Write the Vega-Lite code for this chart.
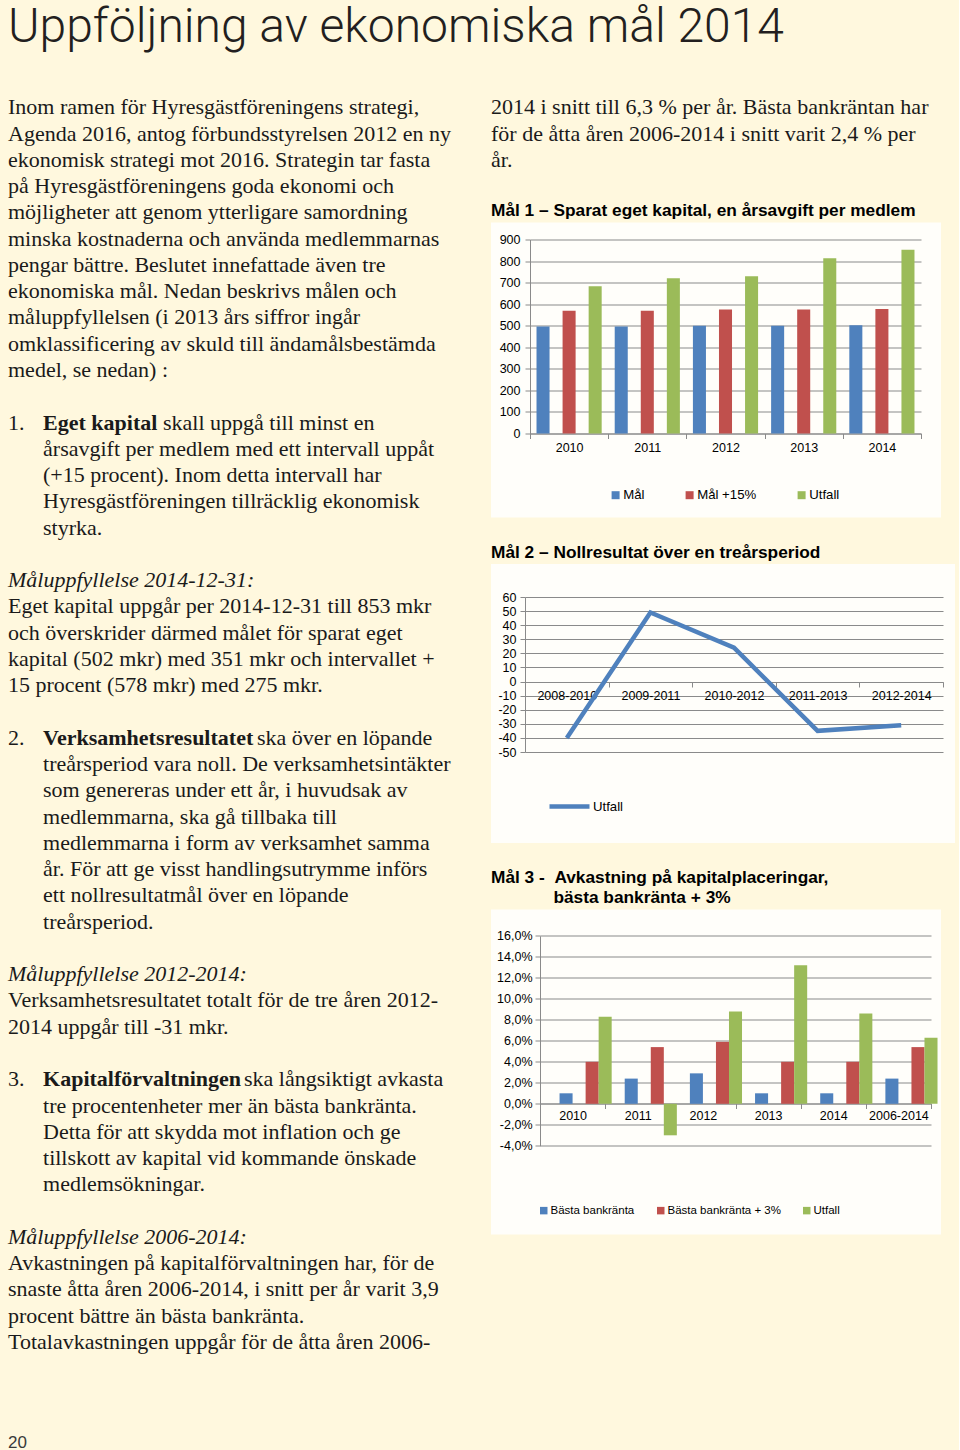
{
  "$schema": "https://vega.github.io/schema/vega-lite/v6.json",
  "background": "#FFF8DE",
  "padding": {"left": 8, "top": 4, "right": 4, "bottom": 2},
  "title": {"text": "Uppföljning av ekonomiska mål 2014", "anchor": "start", "font": "Roboto", "fontWeight": 300, "fontSize": 48, "color": "#231f20", "offset": 29, "frame": "bounds"},
  "spacing": 10,
  "resolve": {"scale": {"color": "independent"}, "legend": {"color": "independent"}},
  "config": {"view": {"stroke": null}},
  "datasets": {
    "left": [
      {"line": 1, "indent": 0, "kind": "p", "text": "Inom ramen för Hyresgästföreningens strategi,"},
      {"line": 2, "indent": 0, "kind": "p", "text": "Agenda 2016, antog förbundsstyrelsen 2012 en ny"},
      {"line": 3, "indent": 0, "kind": "p", "text": "ekonomisk strategi mot 2016. Strategin tar fasta"},
      {"line": 4, "indent": 0, "kind": "p", "text": "på Hyresgästföreningens goda ekonomi och"},
      {"line": 5, "indent": 0, "kind": "p", "text": "möjligheter att genom ytterligare samordning"},
      {"line": 6, "indent": 0, "kind": "p", "text": "minska kostnaderna och använda medlemmarnas"},
      {"line": 7, "indent": 0, "kind": "p", "text": "pengar bättre. Beslutet innefattade även tre"},
      {"line": 8, "indent": 0, "kind": "p", "text": "ekonomiska mål. Nedan beskrivs målen och"},
      {"line": 9, "indent": 0, "kind": "p", "text": "måluppfyllelsen (i 2013 års siffror ingår"},
      {"line": 10, "indent": 0, "kind": "p", "text": "omklassificering av skuld till ändamålsbestämda"},
      {"line": 11, "indent": 0, "kind": "p", "text": "medel, se nedan) :"},
      {"line": 13, "indent": 0, "kind": "p", "text": "1."},
      {"line": 13, "indent": 1, "kind": "lead", "text": "Eget kapital"},
      {"line": 13, "indent": 1, "kind": "rest1", "text": "skall uppgå till minst en"},
      {"line": 14, "indent": 1, "kind": "p", "text": "årsavgift per medlem med ett intervall uppåt"},
      {"line": 15, "indent": 1, "kind": "p", "text": "(+15 procent). Inom detta intervall har"},
      {"line": 16, "indent": 1, "kind": "p", "text": "Hyresgästföreningen tillräcklig ekonomisk"},
      {"line": 17, "indent": 1, "kind": "p", "text": "styrka."},
      {"line": 19, "indent": 0, "kind": "em", "text": "Måluppfyllelse 2014-12-31:"},
      {"line": 20, "indent": 0, "kind": "p", "text": "Eget kapital uppgår per 2014-12-31 till 853 mkr"},
      {"line": 21, "indent": 0, "kind": "p", "text": "och överskrider därmed målet för sparat eget"},
      {"line": 22, "indent": 0, "kind": "p", "text": "kapital (502 mkr) med 351 mkr och intervallet +"},
      {"line": 23, "indent": 0, "kind": "p", "text": "15 procent (578 mkr) med 275 mkr."},
      {"line": 25, "indent": 0, "kind": "p", "text": "2."},
      {"line": 25, "indent": 1, "kind": "lead", "text": "Verksamhetsresultatet"},
      {"line": 25, "indent": 1, "kind": "rest2", "text": "ska över en löpande"},
      {"line": 26, "indent": 1, "kind": "p", "text": "treårsperiod vara noll. De verksamhetsintäkter"},
      {"line": 27, "indent": 1, "kind": "p", "text": "som genereras under ett år, i huvudsak av"},
      {"line": 28, "indent": 1, "kind": "p", "text": "medlemmarna, ska gå tillbaka till"},
      {"line": 29, "indent": 1, "kind": "p", "text": "medlemmarna i form av verksamhet samma"},
      {"line": 30, "indent": 1, "kind": "p", "text": "år. För att ge visst handlingsutrymme införs"},
      {"line": 31, "indent": 1, "kind": "p", "text": "ett nollresultatmål över en löpande"},
      {"line": 32, "indent": 1, "kind": "p", "text": "treårsperiod."},
      {"line": 34, "indent": 0, "kind": "em", "text": "Måluppfyllelse 2012-2014:"},
      {"line": 35, "indent": 0, "kind": "p", "text": "Verksamhetsresultatet totalt för de tre åren 2012-"},
      {"line": 36, "indent": 0, "kind": "p", "text": "2014 uppgår till -31 mkr."},
      {"line": 38, "indent": 0, "kind": "p", "text": "3."},
      {"line": 38, "indent": 1, "kind": "lead", "text": "Kapitalförvaltningen"},
      {"line": 38, "indent": 1, "kind": "rest3", "text": "ska långsiktigt avkasta"},
      {"line": 39, "indent": 1, "kind": "p", "text": "tre procentenheter mer än bästa bankränta."},
      {"line": 40, "indent": 1, "kind": "p", "text": "Detta för att skydda mot inflation och ge"},
      {"line": 41, "indent": 1, "kind": "p", "text": "tillskott av kapital vid kommande önskade"},
      {"line": 42, "indent": 1, "kind": "p", "text": "medlemsökningar."},
      {"line": 44, "indent": 0, "kind": "em", "text": "Måluppfyllelse 2006-2014:"},
      {"line": 45, "indent": 0, "kind": "p", "text": "Avkastningen på kapitalförvaltningen har, för de"},
      {"line": 46, "indent": 0, "kind": "p", "text": "snaste åtta åren 2006-2014, i snitt per år varit 3,9"},
      {"line": 47, "indent": 0, "kind": "p", "text": "procent bättre än bästa bankränta."},
      {"line": 48, "indent": 0, "kind": "p", "text": "Totalavkastningen uppgår för de åtta åren 2006-"},
      {"line": 52, "indent": 0, "kind": "page", "text": "20"}
    ],
    "right": [
      {"line": 1, "indent": 0, "kind": "p", "text": "2014 i snitt till 6,3 % per år. Bästa bankräntan har"},
      {"line": 2, "indent": 0, "kind": "p", "text": "för de åtta åren 2006-2014 i snitt varit 2,4 % per"},
      {"line": 3, "indent": 0, "kind": "p", "text": "år."}
    ],
    "mal1": [
      {"year": "2010", "serie": "Mål", "value": 496},
      {"year": "2010", "serie": "Mål +15%", "value": 570},
      {"year": "2010", "serie": "Utfall", "value": 683},
      {"year": "2011", "serie": "Mål", "value": 496},
      {"year": "2011", "serie": "Mål +15%", "value": 570},
      {"year": "2011", "serie": "Utfall", "value": 720},
      {"year": "2012", "serie": "Mål", "value": 500},
      {"year": "2012", "serie": "Mål +15%", "value": 575},
      {"year": "2012", "serie": "Utfall", "value": 729},
      {"year": "2013", "serie": "Mål", "value": 500},
      {"year": "2013", "serie": "Mål +15%", "value": 575},
      {"year": "2013", "serie": "Utfall", "value": 813},
      {"year": "2014", "serie": "Mål", "value": 502},
      {"year": "2014", "serie": "Mål +15%", "value": 578},
      {"year": "2014", "serie": "Utfall", "value": 853}
    ],
    "mal2": [
      {"period": "2008-2010", "serie": "Utfall", "value": -40},
      {"period": "2009-2011", "serie": "Utfall", "value": 49},
      {"period": "2010-2012", "serie": "Utfall", "value": 24},
      {"period": "2011-2013", "serie": "Utfall", "value": -35},
      {"period": "2012-2014", "serie": "Utfall", "value": -31}
    ],
    "mal3": [
      {"year": "2010", "serie": "Bästa bankränta", "value": 1.0},
      {"year": "2010", "serie": "Bästa bankränta + 3%", "value": 4.0},
      {"year": "2010", "serie": "Utfall", "value": 8.3},
      {"year": "2011", "serie": "Bästa bankränta", "value": 2.4},
      {"year": "2011", "serie": "Bästa bankränta + 3%", "value": 5.4},
      {"year": "2011", "serie": "Utfall", "value": -3.0},
      {"year": "2012", "serie": "Bästa bankränta", "value": 2.9},
      {"year": "2012", "serie": "Bästa bankränta + 3%", "value": 5.9},
      {"year": "2012", "serie": "Utfall", "value": 8.8},
      {"year": "2013", "serie": "Bästa bankränta", "value": 1.0},
      {"year": "2013", "serie": "Bästa bankränta + 3%", "value": 4.0},
      {"year": "2013", "serie": "Utfall", "value": 13.2},
      {"year": "2014", "serie": "Bästa bankränta", "value": 1.0},
      {"year": "2014", "serie": "Bästa bankränta + 3%", "value": 4.0},
      {"year": "2014", "serie": "Utfall", "value": 8.6},
      {"year": "2006-2014", "serie": "Bästa bankränta", "value": 2.4},
      {"year": "2006-2014", "serie": "Bästa bankränta + 3%", "value": 5.4},
      {"year": "2006-2014", "serie": "Utfall", "value": 6.3}
    ]
  },
  "hconcat": [
    {
      "width": 473,
      "height": 1366,
      "data": {"name": "left"},
      "encoding": {
        "x": {"field": "indent", "type": "quantitative", "scale": {"domain": [0, 13.5], "nice": false, "zero": false}, "axis": null},
        "y": {"field": "line", "type": "quantitative", "scale": {"domain": [0, 52], "nice": false, "zero": false, "reverse": true}, "axis": null},
        "text": {"field": "text", "type": "nominal"}
      },
      "layer": [
        {"transform": [{"filter": "datum.kind === 'p'"}], "mark": {"type": "text", "align": "left", "baseline": "middle", "font": "Liberation Serif", "fontSize": 22, "color": "#1a1a1a"}},
        {"transform": [{"filter": "datum.kind === 'em'"}], "mark": {"type": "text", "align": "left", "baseline": "middle", "font": "Liberation Serif", "fontSize": 22, "fontStyle": "italic", "color": "#1a1a1a"}},
        {"transform": [{"filter": "datum.kind === 'lead'"}], "mark": {"type": "text", "align": "left", "baseline": "middle", "font": "Liberation Serif", "fontSize": 22, "fontWeight": "bold", "color": "#1a1a1a"}},
        {"transform": [{"filter": "datum.kind === 'rest1'"}], "mark": {"type": "text", "align": "left", "baseline": "middle", "font": "Liberation Serif", "fontSize": 22, "color": "#1a1a1a", "dx": 120}},
        {"transform": [{"filter": "datum.kind === 'rest2'"}], "mark": {"type": "text", "align": "left", "baseline": "middle", "font": "Liberation Serif", "fontSize": 22, "color": "#1a1a1a", "dx": 214}},
        {"transform": [{"filter": "datum.kind === 'rest3'"}], "mark": {"type": "text", "align": "left", "baseline": "middle", "font": "Liberation Serif", "fontSize": 22, "color": "#1a1a1a", "dx": 201}},
        {"transform": [{"filter": "datum.kind === 'page'"}], "mark": {"type": "text", "align": "left", "baseline": "alphabetic", "dy": 1, "font": "Liberation Sans", "fontSize": 17, "color": "#3a3a3a"}}
      ]
    },
    {
      "spacing": 25.5,
      "resolve": {"scale": {"color": "independent"}, "legend": {"color": "independent"}},
      "vconcat": [
        {
          "width": 450,
          "height": 95,
          "data": {"name": "right"},
          "mark": {"type": "text", "align": "left", "baseline": "middle", "font": "Liberation Serif", "fontSize": 22, "color": "#1a1a1a"},
          "encoding": {
            "x": {"field": "indent", "type": "quantitative", "scale": {"domain": [0, 1], "nice": false, "zero": false}, "axis": null},
            "y": {"field": "line", "type": "quantitative", "scale": {"domain": [0, 3.615], "nice": false, "zero": false, "reverse": true}, "axis": null},
            "text": {"field": "text", "type": "nominal"}
          }
        },
        {
          "width": 450,
          "height": 295,
          "view": {"fill": "#FFFEFA", "stroke": null},
          "title": {"text": "Mål 1 – Sparat eget kapital, en årsavgift per medlem", "anchor": "start", "frame": "group", "font": "Liberation Sans", "fontSize": 17.3, "fontWeight": "bold", "color": "#000000", "offset": 3},
          "data": {"name": "mal1"},
          "mark": {"type": "bar"},
          "encoding": {
            "x": {"field": "year", "type": "nominal", "scale": {"range": [39, 430], "paddingInner": 0, "paddingOuter": 0},
              "axis": {"orient": "bottom", "offset": -84, "tickBand": "extent", "labelAngle": 0, "title": null, "grid": false, "domainColor": "#8a8a8a", "tickColor": "#8a8a8a", "tickSize": 5, "labelPadding": 3, "labelFont": "Liberation Sans", "labelFontSize": 12.5, "labelColor": "#000000"}},
            "xOffset": {"field": "serie", "type": "nominal", "sort": ["Mål", "Mål +15%", "Utfall"], "scale": {"paddingInner": 0, "paddingOuter": 0.5}},
            "y": {"field": "value", "type": "quantitative", "scale": {"domain": [0, 900], "range": [211, 17], "nice": false},
              "axis": {"values": [0, 100, 200, 300, 400, 500, 600, 700, 800, 900], "offset": -39, "title": null, "grid": true, "gridColor": "#8a8a8a", "gridWidth": 1.2, "domainColor": "#8a8a8a", "tickColor": "#8a8a8a", "tickSize": 5, "labelPadding": 5, "labelFont": "Liberation Sans", "labelFontSize": 12.5, "labelColor": "#000000"}},
            "color": {"field": "serie", "type": "nominal", "sort": ["Mål", "Mål +15%", "Utfall"], "scale": {"domain": ["Mål", "Mål +15%", "Utfall"], "range": ["#4F81BD", "#C0504D", "#9BBB59"]},
              "legend": {"orient": "none", "legendX": 118, "legendY": 266, "direction": "horizontal", "title": null, "symbolType": "square", "symbolSize": 64, "symbolStrokeWidth": 0, "labelFont": "Liberation Sans", "labelFontSize": 13.2, "labelColor": "#000000", "labelOffset": 1, "columnPadding": 38}}
          }
        },
        {
          "width": 464,
          "height": 279,
          "view": {"fill": "#FFFEFA", "stroke": null},
          "title": {"text": "Mål 2 – Nollresultat över en treårsperiod", "anchor": "start", "frame": "group", "font": "Liberation Sans", "fontSize": 17.3, "fontWeight": "bold", "color": "#000000", "offset": 3},
          "data": {"name": "mal2"},
          "mark": {"type": "line", "strokeWidth": 4.5},
          "encoding": {
            "x": {"field": "period", "type": "nominal", "scale": {"range": [34, 452], "paddingInner": 0, "paddingOuter": 0},
              "axis": {"orient": "bottom", "offset": -161, "tickBand": "extent", "labelAngle": 0, "title": null, "grid": false, "domainColor": "#8a8a8a", "tickColor": "#8a8a8a", "tickSize": 5, "labelPadding": 2, "labelFont": "Liberation Sans", "labelFontSize": 12.5, "labelColor": "#000000"}},
            "y": {"field": "value", "type": "quantitative", "scale": {"domain": [-50, 60], "range": [188, 33], "nice": false},
              "axis": {"values": [-50, -40, -30, -20, -10, 0, 10, 20, 30, 40, 50, 60], "labelExpr": "replace(format(datum.value, 'd'), '\u2212', '-')", "offset": -34, "title": null, "grid": true, "gridColor": "#8a8a8a", "gridWidth": 1.2, "domainColor": "#8a8a8a", "tickColor": "#8a8a8a", "tickSize": 5, "labelPadding": 4, "labelFont": "Liberation Sans", "labelFontSize": 12.5, "labelColor": "#000000"}},
            "color": {"field": "serie", "type": "nominal", "scale": {"domain": ["Utfall"], "range": ["#4F81BD"]},
              "legend": {"orient": "none", "legendX": 56, "legendY": 220, "title": null, "symbolType": "stroke", "symbolSize": 1600, "symbolStrokeWidth": 4.5, "labelFont": "Liberation Sans", "labelFontSize": 13.2, "labelColor": "#000000", "labelOffset": 1}}
          }
        },
        {
          "width": 450,
          "height": 325,
          "view": {"fill": "#FFFEFA", "stroke": null},
          "title": {"text": ["Mål 3 -\u00a0\u00a0Avkastning på kapitalplaceringar,", "\u200b\u00a0\u00a0\u00a0\u00a0\u00a0\u00a0\u00a0\u00a0\u00a0\u00a0\u00a0\u00a0\u00a0bästa bankränta + 3%"], "anchor": "start", "frame": "group", "font": "Liberation Sans", "fontSize": 17.3, "fontWeight": "bold", "color": "#000000", "offset": 3, "lineHeight": 20},
          "data": {"name": "mal3"},
          "mark": {"type": "bar"},
          "encoding": {
            "x": {"field": "year", "type": "nominal", "sort": ["2010", "2011", "2012", "2013", "2014", "2006-2014"], "scale": {"range": [49, 440], "paddingInner": 0, "paddingOuter": 0},
              "axis": {"orient": "bottom", "offset": -131, "tickBand": "extent", "labelAngle": 0, "title": null, "grid": false, "domainColor": "#8a8a8a", "tickColor": "#8a8a8a", "tickSize": 5, "labelPadding": 1, "labelFont": "Liberation Sans", "labelFontSize": 12.5, "labelColor": "#000000"}},
            "xOffset": {"field": "serie", "type": "nominal", "sort": ["Bästa bankränta", "Bästa bankränta + 3%", "Utfall"], "scale": {"paddingInner": 0, "paddingOuter": 0.5}},
            "y": {"field": "value", "type": "quantitative", "scale": {"domain": [-4, 16], "range": [236.3, 26.3], "nice": false},
              "axis": {"values": [-4, -2, 0, 2, 4, 6, 8, 10, 12, 14, 16], "labelExpr": "replace(replace(format(datum.value, '.1f'), '.', ','), '\u2212', '-') + '%'", "offset": -49, "title": null, "grid": true, "gridColor": "#8a8a8a", "gridWidth": 1.2, "domainColor": "#8a8a8a", "tickColor": "#8a8a8a", "tickSize": 5, "labelPadding": 3, "labelFont": "Liberation Sans", "labelFontSize": 12.5, "labelColor": "#000000"}},
            "color": {"field": "serie", "type": "nominal", "sort": ["Bästa bankränta", "Bästa bankränta + 3%", "Utfall"], "scale": {"domain": ["Bästa bankränta", "Bästa bankränta + 3%", "Utfall"], "range": ["#4F81BD", "#C0504D", "#9BBB59"]},
              "legend": {"orient": "none", "legendX": 47, "legendY": 295, "direction": "horizontal", "title": null, "symbolType": "square", "symbolSize": 56, "symbolStrokeWidth": 0, "labelFont": "Liberation Sans", "labelFontSize": 11.5, "labelColor": "#000000", "labelOffset": 1, "columnPadding": 20}}
          }
        }
      ]
    }
  ]
}
